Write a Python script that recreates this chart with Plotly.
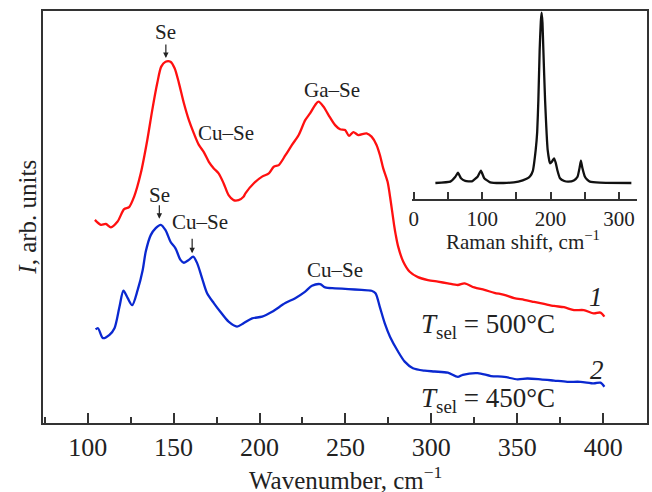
import plotly.graph_objects as go

# ---------------- data ----------------
red_x = [104.2, 107.7, 110.6, 113.5, 117.4, 121.2, 124.1, 127.0, 130.9, 134.7, 137.6, 140.5,
         142.8, 145.3, 148.2, 150.6, 153.1, 156.0, 158.9, 161.8, 164.7, 167.5, 170.5, 173.4,
         176.2, 179.1, 182.0, 184.9, 187.8, 190.7, 191.9, 196.7, 201.5, 205.4, 208.3, 211.2,
         215.1, 218.9, 222.8, 226.6, 229.5, 232.4, 234.3, 237.2, 240.1, 244.0, 246.9, 249.8,
         252.1, 254.6, 257.5, 262.3, 265.2, 268.1, 270.1, 272.0, 274.5, 276.4, 278.3, 279.3,
         280.7, 283.6, 287.4, 292.2, 298.0, 303.8, 309.6, 315.4, 319.3, 325.0, 330.9, 336.7,
         342.4, 348.2, 354.0, 359.8, 365.6, 371.4, 377.2, 383.0, 388.7, 394.5, 398.4, 400.7]
red_y = [49.3, 48.1, 48.3, 47.5, 48.9, 51.9, 52.4, 54.9, 60.6, 68.7, 76.0, 82.5,
         86.5, 87.7, 87.7, 86.1, 82.5, 77.6, 73.5, 70.3, 67.5, 65.8, 63.4, 61.8,
         60.6, 58.2, 55.3, 54.1, 54.1, 54.9, 55.8, 58.2, 59.8, 60.6, 62.2, 62.6,
         65.0, 67.5, 69.9, 73.5, 75.2, 77.2, 78.0, 76.8, 74.8, 72.3, 71.3, 71.1,
         69.7, 70.6, 69.9, 70.3, 69.5, 67.5, 65.0, 61.8, 58.6, 53.7, 48.1, 45.6,
         42.8, 39.2, 36.7, 35.4, 34.7, 34.3, 33.9, 33.5, 33.9, 32.9, 32.3, 31.6,
         31.1, 30.3, 29.9, 29.4, 28.9, 28.4, 28.1, 27.4, 27.4, 26.6, 26.8, 25.8]

blue_x = [104.6, 106.0, 108.9, 112.7, 115.6, 118.5, 120.8, 123.3, 125.9, 129.1, 132.0, 133.8,
          136.7, 139.6, 142.5, 145.3, 148.2, 151.1, 154.0, 156.0, 158.9, 161.4, 163.7, 166.6,
          169.5, 173.4, 177.2, 182.0, 186.9, 190.7, 195.7, 201.5, 207.3, 215.0, 220.8, 226.6,
          230.5, 235.3, 238.2, 244.0, 251.7, 259.4, 265.2, 267.5, 270.0, 272.9, 276.0, 280.7,
          284.5, 289.3, 296.1, 301.9, 309.6, 315.4, 318.3, 327.0, 334.7, 342.4, 350.1, 355.9,
          363.6, 371.4, 379.1, 386.8, 394.5, 398.4, 400.7]
blue_y = [22.7, 23.0, 20.6, 21.4, 23.0, 28.2, 32.1, 30.3, 28.6, 32.3, 37.1, 41.6,
          45.6, 47.3, 48.1, 46.8, 44.0, 42.4, 39.6, 38.9, 39.6, 40.4, 38.8, 35.1,
          31.5, 29.1, 27.0, 24.6, 23.4, 24.2, 25.4, 25.8, 27.0, 29.1, 30.3, 31.9,
          33.3, 33.7, 32.9, 32.7, 32.5, 32.3, 32.1, 31.5, 28.2, 24.2, 20.9, 17.3,
          14.9, 13.3, 12.7, 12.5, 12.2, 11.2, 11.7, 12.1, 11.4, 11.2, 10.6, 10.8,
          10.6, 10.3, 10.0, 10.0, 9.6, 9.8, 8.8]

inset_x = [31.6, 53.4, 60.8, 64.6, 69.0, 75.3, 85.0, 93.3, 98.2, 103.0, 111.8, 131.0,
           153.0, 165.0, 170.1, 174.0, 178.3, 180.5, 182.2, 184.1, 185.8, 187.0, 188.2,
           189.5, 192.0, 195.8, 199.2, 202.0, 205.0, 207.5, 210.0, 213.8, 220.0, 226.0,
           234.0, 239.5, 242.5, 244.4, 246.5, 250.3, 254.0, 257.6, 272.2, 318.2]
inset_y = [0.0, 0.008, 0.037, 0.06, 0.028, 0.012, 0.010, 0.037, 0.072, 0.028, 0.004, 0.0,
           0.008, 0.025, 0.040, 0.07, 0.195, 0.30, 0.487, 0.781, 0.95, 1.0, 0.94,
           0.781, 0.487, 0.195, 0.116, 0.125, 0.145, 0.12, 0.075, 0.028, 0.012, 0.008,
           0.015, 0.037, 0.09, 0.131, 0.09, 0.037, 0.018, 0.008, 0.002, 0.0]

main_ticks = [100, 150, 200, 250, 300, 350, 400]
inset_tickvals = [0, 50, 100, 150, 200, 250, 300]
inset_ticktext = ["0", "", "100", "", "200", "", "300"]

# ---------------- figure ----------------
FONT = "Liberation Serif"
AX = "#333333"
TXT = "#222222"

fig = go.Figure()
fig.add_trace(go.Scatter(x=red_x, y=red_y, mode="lines",
                         line=dict(color="#ff1010", width=2.3, shape="spline", smoothing=0.8),
                         showlegend=False))
fig.add_trace(go.Scatter(x=blue_x, y=blue_y, mode="lines",
                         line=dict(color="#0a28d0", width=2.3, shape="spline", smoothing=0.8),
                         showlegend=False))
fig.add_trace(go.Scatter(x=inset_x, y=inset_y, mode="lines", xaxis="x2", yaxis="y2",
                         line=dict(color="#111111", width=2.3, shape="spline", smoothing=0.4),
                         showlegend=False))

fig.update_layout(
    width=652, height=492,
    margin=dict(l=43, r=3, t=11, b=69),
    paper_bgcolor="white", plot_bgcolor="white",
    font=dict(family=FONT, color=TXT, size=22),
    xaxis=dict(range=[74, 425.5], tickvals=main_ticks, ticks="inside", ticklen=10,
               tickwidth=2, tickcolor=AX,
               minor=dict(dtick=25, tick0=0, ticks="inside", ticklen=6, tickwidth=2, tickcolor=AX),
               showline=True, linewidth=2, linecolor=AX, mirror=True,
               showgrid=False, zeroline=False, tickfont=dict(size=26, family=FONT, color=TXT)),
    yaxis=dict(range=[0, 100], showticklabels=False, ticks="", showline=True,
               linewidth=2, linecolor=AX, mirror=True, showgrid=False, zeroline=False),
    xaxis2=dict(domain=[0.6106, 0.9835], anchor="y2", range=[-2.9, 326.5],
                tickvals=inset_tickvals, ticktext=inset_ticktext, ticks="inside",
                ticklen=7, tickwidth=2, tickcolor=AX, showline=True, linewidth=2,
                linecolor=AX, showgrid=False, zeroline=False,
                tickfont=dict(size=21, family=FONT, color=TXT)),
    yaxis2=dict(domain=[0.5437, 1.0], anchor="x2", range=[-0.094, 1.01], visible=False),
)

annots = []
def txt(x, y, s, size=21, xref="x", yref="y", **kw):
    annots.append(dict(x=x, y=y, xref=xref, yref=yref, text=s, showarrow=False,
                       font=dict(size=size, family=FONT, color=TXT),
                       xanchor="center", yanchor="middle", **kw))

def arrow(x, y, ay):
    annots.append(dict(x=x, y=y, xref="x", yref="y", text="", showarrow=True,
                       ax=0, ay=ay, arrowhead=2, arrowsize=0.9, arrowwidth=1.2,
                       arrowcolor="#222222"))

# peak labels
txt(145.5, 94.9, "Se")
arrow(145.5, 88.6, -15)
txt(180.5, 70.4, "Cu–Se")
txt(242.4, 80.8, "Ga–Se")
txt(141.7, 55.3, "Se")
arrow(141.7, 49.6, -15)
txt(165.5, 48.8, "Cu–Se")
arrow(160.8, 41.2, -16)
txt(244.2, 37.1, "Cu–Se")

# curve labels
txt(395.9, 30.6, "<i>1</i>", size=27)
txt(396.5, 12.9, "<i>2</i>", size=27)
txt(333, 23.5, "<i>T</i><sub>sel</sub> = 500°C", size=27)
txt(333, 5.5, "<i>T</i><sub>sel</sub> = 450°C", size=27)

# axis titles
txt(0.5, -0.133, "Wavenumber, cm<sup>−1</sup>", size=25, xref="paper", yref="paper")
txt(-0.027, 0.5, "<i>I</i>, arb. units", size=25, xref="paper", yref="paper", textangle=-90)
txt((525 - 43) / 606, (423 - 240) / 412, "Raman shift, cm<sup>−1</sup>", size=21,
    xref="paper", yref="paper")

fig.update_layout(annotations=annots)
fig.write_html("out.html")
